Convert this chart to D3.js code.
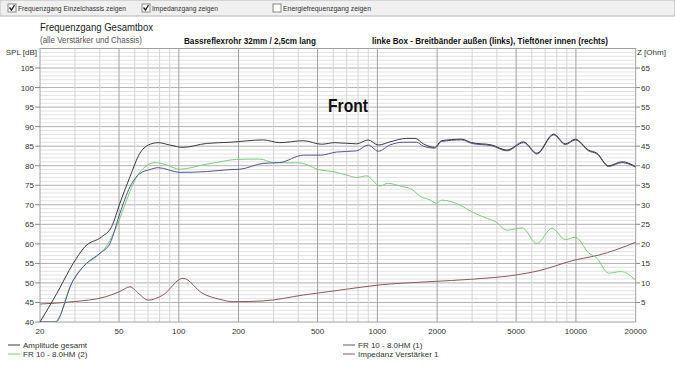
<!DOCTYPE html>
<html>
<head>
<meta charset="utf-8">
<script src="https://cdn.jsdelivr.net/npm/d3@7"></script>
<style>
body { margin: 0; background: #fff; }
text { font-family: "Liberation Sans", Arial, sans-serif; }
</style>
</head>
<body>
<script>
// Frequenzgang, Werte
var ampFreq = [20, 24.3, 29.4, 33.7, 40.9, 45.9, 50.5, 56.8, 63.7, 70.2, 78.8, 90, 105, 138, 181, 266, 323, 424, 524, 610, 786, 898, 1012, 1156, 1404, 1548, 1704, 1946, 2105, 2662, 2988, 3770, 4490, 5450, 6360, 7720, 8840, 9930, 11580, 12760, 14590, 17040, 20000];
var ampDb = [40, 47.3, 55, 59.3, 61.8, 64.4, 70.4, 77.2, 83.2, 85.3, 85.9, 85.3, 84.7, 85.7, 86.0, 86.6, 85.9, 86.4, 85.5, 85.9, 85.6, 86.6, 85.3, 86.1, 87.0, 87.0, 85.6, 84.7, 86.4, 86.8, 85.9, 85.3, 84.0, 86.1, 83.2, 88.1, 85.6, 86.8, 84.0, 83.2, 80.0, 81.0, 79.8];

var fr1Freq = [20, 23.8, 29.4, 34.3, 40.1, 45, 50.5, 56.8, 63.7, 71.5, 78.8, 101, 138, 181, 203, 266, 323, 424, 515, 623, 786, 898, 1012, 1156, 1350, 1577, 1704, 1946, 2105, 2662, 2988, 3770, 4490, 5450, 6360, 7720, 8840, 9930, 11580, 12760, 14590, 17040, 20000];
var fr1Db = [40, 40, 50.7, 55, 57.6, 60.1, 67.8, 74.6, 78, 79, 79.5, 78.3, 78.5, 79.0, 79.1, 80.6, 80.8, 82.7, 82.7, 83.5, 83.8, 85.3, 83.7, 85.3, 86.0, 86.0, 85.0, 84.5, 86.2, 86.6, 85.7, 85.1, 83.8, 85.9, 83.0, 87.9, 85.4, 86.6, 83.8, 83.0, 79.8, 80.8, 79.6];

var fr2Freq = [20, 24.1, 28.3, 33, 38.4, 43.1, 48.6, 54.6, 61.4, 67.6, 75.9, 86.7, 101, 132, 161, 195, 256, 300, 407, 515, 600, 700, 786, 883, 1030, 1130, 1300, 1495, 1643, 1844, 1985, 2105, 2662, 2988, 3490, 3920, 4490, 5350, 6360, 7580, 8840, 9930, 11580, 12760, 14590, 16840, 20000];
var fr2Db = [40, 40, 49, 54.2, 56.7, 59.3, 64.4, 71.2, 77.2, 79.7, 80.8, 80.2, 79.1, 80.2, 81.0, 81.6, 81.7, 80.8, 80.7, 78.9, 78.5, 77.6, 77.0, 77.4, 74.8, 75.5, 74.8, 73.9, 72.2, 71.2, 70.4, 71.2, 69.7, 68.2, 66.7, 65.7, 63.5, 64.1, 60.1, 64.0, 61.1, 61.7, 57.7, 56.3, 52.5, 52.9, 50.7];

var impFreq = [20, 29.4, 43.1, 50.5, 56.8, 63, 70.2, 83.2, 105, 132, 161, 188, 266, 424, 700, 1030, 1800, 3100, 4940, 6480, 9930, 13000, 20000];
var impOhm = [4.6, 5.2, 6.5, 7.8, 9.0, 7.2, 5.6, 6.9, 11.2, 7.3, 5.8, 5.2, 5.4, 6.9, 8.4, 9.5, 10.3, 11.0, 12.0, 13.1, 15.9, 17.1, 20.4];

var xTicks = [20, 50, 100, 200, 500, 1000, 2000, 5000, 10000, 20000];
var splTicks = [40, 45, 50, 55, 60, 65, 70, 75, 80, 85, 90, 95, 100, 105];
var ohmTicks = [5, 10, 15, 20, 25, 30, 35, 40, 45, 50, 55, 60, 65];

var legendItems = [
	{"name": "Amplitude gesamt", "color": "#3c3c3c", "x": 8, "y": 345},
	{"name": "FR 10 - 8.0HM (2)", "color": "#7ccc7c", "x": 8, "y": 354},
	{"name": "FR 10 - 8.0HM (1)", "color": "#55558c", "x": 343, "y": 345},
	{"name": "Impedanz Verstärker 1", "color": "#8c5a5a", "x": 343, "y": 354}
];

var svg = d3.select("body")
			.append("svg")
			.attr("width", 675)
			.attr("height", 373);

var x = d3.scaleLog().domain([20, 20000]).range([40, 635.7]);
var y = d3.scaleLinear().domain([40, 110]).range([322, 48.5]);
var z = d3.scaleLinear().domain([0, 70]).range([322, 48.5]);

// Leiste oben mit Checkboxen
svg.append("rect").attr("x", 0).attr("y", 0).attr("width", 675).attr("height", 16)
	.attr("fill", "#f0f0f0").attr("stroke", "#b8b8b8");
var boxes = [
	{"x": 8, "label": "Frequenzgang Einzelchassis zeigen", "checked": true, "w": 108},
	{"x": 142, "label": "Impedanzgang zeigen", "checked": true, "w": 66},
	{"x": 273, "label": "Energiefrequenzgang zeigen", "checked": false, "w": 88}
];
boxes.forEach(function(b) {
	svg.append("rect").attr("x", b.x).attr("y", 4).attr("width", 8).attr("height", 8)
		.attr("fill", "#fff").attr("stroke", "#888");
	if (b.checked) {
		svg.append("polyline")
			.attr("points", (b.x + 1.5) + ",7.5 " + (b.x + 3.5) + ",10 " + (b.x + 6.5) + ",5")
			.attr("fill", "none").attr("stroke", "#222").attr("stroke-width", 1.3);
	}
	svg.append("text").attr("x", b.x + 10).attr("y", 11)
		.attr("font-size", 8).attr("fill", "#333")
		.attr("textLength", b.w).attr("lengthAdjust", "spacingAndGlyphs")
		.text(b.label);
});

// Titel
svg.append("text").attr("x", 40).attr("y", 31).attr("font-size", 10.5).attr("fill", "#222")
	.attr("textLength", 113).attr("lengthAdjust", "spacingAndGlyphs")
	.text("Frequenzgang Gesamtbox");
svg.append("text").attr("x", 40).attr("y", 43).attr("font-size", 8.5).attr("fill", "#555")
	.attr("textLength", 102).attr("lengthAdjust", "spacingAndGlyphs")
	.text("(alle Verstärker und Chassis)");
svg.append("text").attr("x", 184).attr("y", 44).attr("font-size", 9).attr("font-weight", "bold").attr("fill", "#111")
	.attr("textLength", 132).attr("lengthAdjust", "spacingAndGlyphs")
	.text("Bassreflexrohr 32mm / 2,5cm lang");
svg.append("text").attr("x", 372).attr("y", 44).attr("font-size", 9).attr("font-weight", "bold").attr("fill", "#111")
	.attr("textLength", 236).attr("lengthAdjust", "spacingAndGlyphs")
	.text("linke Box - Breitbänder außen (links), Tieftöner innen (rechts)");

// Raster
var plot = svg.append("g");
plot.append("rect").attr("x", 40).attr("y", 48.5).attr("width", 595.7).attr("height", 273.5).attr("fill", "#fff");

var minorDb = d3.range(41, 110);
plot.selectAll("line.hmin").data(minorDb).enter().append("line")
	.attr("x1", 40).attr("x2", 635.7)
	.attr("y1", function(d){ return y(d); }).attr("y2", function(d){ return y(d); })
	.attr("stroke", function(d){ return d % 5 == 0 ? "#b0b0b0" : "#e2e2e2"; })
	.attr("stroke-width", 1);

var allF = [];
[10, 100, 1000, 10000].forEach(function(dec) {
	for (var k = 1; k < 10; k++) {
		var f = dec * k;
		if (f > 20 && f < 20000) allF.push(f);
	}
});
plot.selectAll("line.vgrid").data(allF).enter().append("line")
	.attr("x1", function(d){ return x(d); }).attr("x2", function(d){ return x(d); })
	.attr("y1", 48.5).attr("y2", 322)
	.attr("stroke", function(d){ return xTicks.indexOf(d) >= 0 ? "#a0a0a0" : "#d4d4d4"; });

// Achsen
plot.append("rect").attr("x", 40).attr("y", 48.5).attr("width", 595.7).attr("height", 273.5)
	.attr("fill", "none").attr("stroke", "#a0a0a0");

svg.selectAll("text.xl").data(xTicks).enter().append("text")
	.attr("x", function(d){ return x(d); }).attr("y", 334)
	.attr("text-anchor", "middle").attr("font-size", 8).attr("fill", "#333")
	.text(function(d){ return d; });

svg.selectAll("line.lt").data(splTicks).enter().append("line")
	.attr("x1", 35).attr("x2", 40)
	.attr("y1", function(d){ return y(d); }).attr("y2", function(d){ return y(d); })
	.attr("stroke", "#888");
svg.selectAll("text.yl").data(splTicks).enter().append("text")
	.attr("x", 34).attr("y", function(d){ return y(d) + 3; })
	.attr("text-anchor", "end").attr("font-size", 8).attr("fill", "#333")
	.text(function(d){ return d; });
svg.append("text").attr("x", 37).attr("y", 55).attr("text-anchor", "end")
	.attr("font-size", 8).attr("fill", "#333").text("SPL [dB]");

svg.selectAll("line.rt").data(ohmTicks).enter().append("line")
	.attr("x1", 635.7).attr("x2", 640)
	.attr("y1", function(d){ return z(d); }).attr("y2", function(d){ return z(d); })
	.attr("stroke", "#888");
svg.selectAll("text.zl").data(ohmTicks).enter().append("text")
	.attr("x", 641).attr("y", function(d){ return z(d) + 3; })
	.attr("font-size", 8).attr("fill", "#333")
	.text(function(d){ return d; });
svg.append("text").attr("x", 637).attr("y", 55)
	.attr("font-size", 8).attr("fill", "#333").text("Z [Ohm]");

svg.append("text").attr("x", 328).attr("y", 112).attr("font-size", 19).attr("font-weight", "bold").attr("fill", "#111")
	.attr("textLength", 40).attr("lengthAdjust", "spacingAndGlyphs")
	.text("Front");

// Kurven
svg.append("clipPath").attr("id", "clip").append("rect")
	.attr("x", 40).attr("y", 48.5).attr("width", 595.7).attr("height", 273.5);

function pairs(fs, vs) {
	return fs.map(function(f, i){ return [f, vs[i]]; });
}
var line = d3.line()
	.x(function(d){ return x(d[0]); })
	.y(function(d){ return y(d[1]); })
	.curve(d3.curveMonotoneX);
var zline = d3.line()
	.x(function(d){ return x(d[0]); })
	.y(function(d){ return z(d[1]); })
	.curve(d3.curveMonotoneX);

var curves = svg.append("g").attr("clip-path", "url(#clip)");
curves.append("path").attr("d", zline(pairs(impFreq, impOhm)))
	.attr("fill", "none").attr("stroke", legendItems[3].color).attr("stroke-width", 1);
curves.append("path").attr("d", line(pairs(fr2Freq, fr2Db)))
	.attr("fill", "none").attr("stroke", legendItems[1].color).attr("stroke-width", 1);
curves.append("path").attr("d", line(pairs(fr1Freq, fr1Db)))
	.attr("fill", "none").attr("stroke", legendItems[2].color).attr("stroke-width", 1);
curves.append("path").attr("d", line(pairs(ampFreq, ampDb)))
	.attr("fill", "none").attr("stroke", legendItems[0].color).attr("stroke-width", 1);

// Legende
legendItems.forEach(function(l) {
	svg.append("line").attr("x1", l.x).attr("x2", l.x + 12).attr("y1", l.y).attr("y2", l.y)
		.attr("stroke", l.color);
	svg.append("text").attr("x", l.x + 15).attr("y", l.y + 3)
		.attr("font-size", 8).attr("fill", "#333").text(l.name);
});
</script>
</body>
</html>
